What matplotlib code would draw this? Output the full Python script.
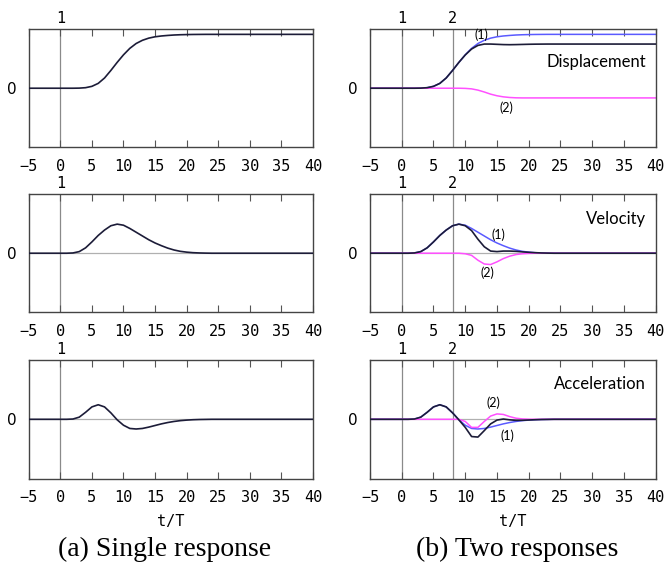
import matplotlib
matplotlib.use("Agg")
import matplotlib.pyplot as plt

# time axis (t/T) and impulse times
t = [-5, 0, 1, 2, 3, 4, 5, 6, 7, 8, 9, 10, 11, 12, 13, 14, 15, 16, 17, 18,
     19, 20, 21, 22, 23, 24, 25, 40]
impulse_t = [0, 8]
impulse_lbl = ['1', '2']
xticks = [-5, 0, 5, 10, 15, 20, 25, 30, 35, 40]
xtick_lbl = ['\u22125', '0', '5', '10', '15', '20', '25', '30', '35', '40']

# response (1) - single response
disp1 = [0, 0, 0, 0, 0.002, 0.01, 0.035, 0.09, 0.19, 0.33, 0.48, 0.62, 0.74, 0.83,
         0.89, 0.93, 0.955, 0.97, 0.98, 0.988, 0.993, 0.996, 0.998, 0.999, 1.0, 1.0, 1.0, 1.0]
vel1 = [0, 0, 0, 0.005, 0.03, 0.1, 0.21, 0.33, 0.43, 0.51, 0.54, 0.52, 0.46, 0.39,
        0.32, 0.25, 0.19, 0.14, 0.095, 0.06, 0.035, 0.02, 0.01, 0.005, 0.002, 0, 0, 0]
acc1 = [0, 0, 0, 0.005, 0.04, 0.13, 0.23, 0.27, 0.23, 0.12, -0.01, -0.11, -0.17, -0.18,
        -0.17, -0.145, -0.115, -0.085, -0.06, -0.04, -0.025, -0.015, -0.008, -0.004, -0.002, 0, 0, 0]

# response (2) - from second impulse
disp2 = [0, 0, 0, 0, 0, 0, 0, 0, 0, 0, 0, -0.003, -0.012, -0.035, -0.07, -0.11, -0.14,
         -0.16, -0.172, -0.178, -0.18, -0.18, -0.18, -0.18, -0.18, -0.18, -0.18, -0.18]
vel2 = [0, 0, 0, 0, 0, 0, 0, 0, 0, 0, 0, -0.01, -0.04, -0.13, -0.2, -0.21, -0.16, -0.1,
        -0.055, -0.025, -0.01, -0.003, 0, 0, 0, 0, 0, 0]
acc2 = [0, 0, 0, 0, 0, 0, 0, 0, 0, 0, 0, -0.04, -0.15, -0.15, -0.04, 0.06, 0.1, 0.09,
        0.05, 0.02, 0.007, 0.002, 0, 0, 0, 0, 0, 0]

names = ['Displacement', 'Velocity', 'Acceleration']
# label positions for (1) and (2): (t, value)
lbl1_pos = [(12.5, 0.99), (15.2, 0.34), (16.6, -0.31)]
lbl2_pos = [(16.5, -0.36), (13.5, -0.37), (14.4, 0.30)]
name_y = [0.72, 0.79, 0.797]

DARK = '#1c1c38'
BLUE = '#5a5aff'
PINK = '#ff50ff'
GREY = '#8a8a8a'

fig = plt.figure(figsize=(6.65, 5.67), dpi=100)
bottoms = [0.7399, 0.4489, 0.156]
lefts = [(0.0432, 0.4275), (0.5564, 0.4296)]


def setup(ax, row, n_imp):
    ax.set_xlim(-5, 40)
    ax.set_ylim(-1.1, 1.1)
    ax.set_xticks(xticks)
    ax.set_xticklabels(xtick_lbl, fontfamily='DejaVu Sans Mono', fontsize=11)
    ax.set_yticks([0])
    ax.set_yticklabels(['0'], fontfamily='DejaVu Sans', fontsize=11)
    ax.tick_params(axis='x', direction='in', top=True, length=5, width=0.8,
                   color='#555555', pad=8)
    ax.tick_params(axis='y', length=0, pad=9)
    for s in ax.spines.values():
        s.set_color('#444444')
        s.set_linewidth(1.0)
    for i in range(n_imp):
        ax.axvline(impulse_t[i], color=GREY, lw=0.9, zorder=1)
        ax.text(impulse_t[i], 1.085, impulse_lbl[i], transform=ax.get_xaxis_transform(),
                ha='center', va='center', fontfamily='DejaVu Sans Mono', fontsize=11)
    if row > 0:
        ax.axhline(0, color='#b0b0b0', lw=0.9, zorder=1)
    if row == 2:
        ax.set_xlabel('t/T', fontfamily='DejaVu Sans Mono', fontsize=11, labelpad=7)


single = [disp1, vel1, acc1]
first = [disp1, vel1, acc1]
second = [disp2, vel2, acc2]

for row in range(3):
    # (a) single response
    ax = fig.add_axes([lefts[0][0], bottoms[row], lefts[0][1], 0.209])
    setup(ax, row, 1)
    ax.plot(t, single[row], color=DARK, lw=1.2, zorder=3)

    # (b) two responses, total = (1) + (2)
    ax = fig.add_axes([lefts[1][0], bottoms[row], lefts[1][1], 0.209])
    setup(ax, row, 2)
    total = [a + b for a, b in zip(first[row], second[row])]
    ax.plot(t, first[row], color=BLUE, lw=1.1, zorder=2)
    ax.plot(t, second[row], color=PINK, lw=1.1, zorder=2)
    ax.plot(t, total, color=DARK, lw=1.2, zorder=3)
    ax.text(0.966, name_y[row], names[row], transform=ax.transAxes, ha='right',
            va='center', fontfamily='Lato', fontsize=12)
    ax.text(lbl1_pos[row][0], lbl1_pos[row][1], '(1)', ha='center', va='center',
            fontfamily='Lato', fontsize=9)
    ax.text(lbl2_pos[row][0], lbl2_pos[row][1], '(2)', ha='center', va='center',
            fontfamily='Lato', fontsize=9)

fig.text(0.248, 0.031, '(a) Single response', ha='center', va='center',
         fontfamily='Liberation Serif', fontsize=20)
fig.text(0.777, 0.031, '(b) Two responses', ha='center', va='center',
         fontfamily='Liberation Serif', fontsize=20)

fig.savefig('out.png', dpi=100)
